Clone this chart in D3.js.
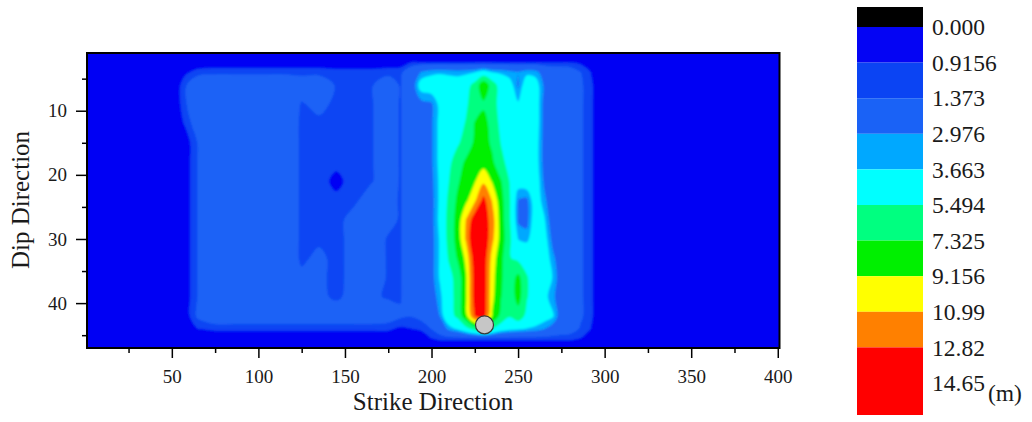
<!DOCTYPE html>
<html>
<head>
<meta charset="utf-8">
<script src="https://cdn.jsdelivr.net/npm/d3@7"></script>
<style>
body { margin: 0; background: #fff; }
text { font-family: "Liberation Serif", "Times New Roman", serif; fill: #1a1a1a; }
</style>
</head>
<body>
<svg id="chart" width="1032" height="422"></svg>
<script>
// grid positions (strike / dip) of the sampled slip values
var gridStrike = [1, 45, 52, 58, 65, 75, 85, 95, 105, 115,
                  125, 135, 145, 155, 165, 175, 182, 188, 194, 200,
                  205, 210, 215, 220, 225, 230, 235, 240, 245, 250,
                  255, 260, 265, 270, 275, 280, 286, 292, 298, 310,
                  401];
var gridDip = [1, 2.5, 4, 6, 9, 12, 15, 18, 21, 24, 27, 30, 33, 36, 39, 42, 44, 45.5, 47];

// slip (m), one row per dip position
var dip01 = [0.5,0.5,0.5,0.5,0.5,0.5,0.5,0.5,0.5,0.5, 0.5,0.5,0.5,0.5,0.5,0.5,0.5,0.5,0.5,0.5, 0.5,0.5,0.5,0.5,0.5,0.5,0.5,0.5,0.5,0.5, 0.5,0.5,0.5,0.5,0.5,0.5,0.5,0.5,0.5,0.5, 0.5];
var dip02 = [0.5,0.5,0.5,0.5,0.5,0.5,0.5,0.5,0.5,0.5, 0.5,0.5,0.5,0.5,0.5,0.5,0.6,0.9,0.9,0.9, 0.9,0.9,0.9,0.9,0.9,0.9,0.9,0.9,0.9,0.9, 0.9,0.9,0.9,0.9,0.9,0.9,0.8,0.6,0.5,0.5, 0.5];
var dip04 = [0.5,0.5,0.5,0.8,1.1,1.2,1.2,1.2,1.2,1.2, 1.2,1.2,1.1,1.1,1.1,1.2,1.2,2.0,3.0,3.4, 3.5,3.4,3.3,3.4,3.6,4.2,3.6,3.5,3.2,3.0, 3.4,3.3,2.4,2.1,2.0,1.9,1.4,0.9,0.5,0.5, 0.5];
var dip06 = [0.5,0.5,0.5,1.3,2.1,2.2,2.2,2.2,2.2,2.2, 1.8,1.9,1.3,1.3,1.3,1.8,1.3,2.0,4.2,4.4, 4.5,4.4,4.4,4.8,6.0,8.6,6.4,4.6,4.2,2.8, 4.4,4.2,2.8,2.2,2.2,2.1,1.5,1.0,0.5,0.5, 0.5];
var dip09 = [0.5,0.5,0.5,1.3,2.1,2.2,2.2,2.2,2.2,2.2, 1.3,1.6,1.2,1.2,1.3,1.8,1.3,2.0,2.6,2.8, 4.0,4.6,4.8,5.2,6.4,7.0,6.0,5.0,4.6,3.8, 4.6,4.4,2.6,2.2,2.2,2.1,1.5,1.0,0.5,0.5, 0.5];
var dip12 = [0.5,0.5,0.5,1.0,1.8,2.2,2.2,2.2,2.2,2.2, 1.2,1.2,1.2,1.2,1.3,1.8,1.3,2.0,2.2,2.8, 4.0,4.6,4.8,5.6,7.4,8.0,6.6,5.0,4.6,4.6, 4.6,4.4,2.6,2.2,2.2,2.1,1.5,1.0,0.5,0.5, 0.5];
var dip15 = [0.5,0.5,0.5,0.6,1.4,2.2,2.2,2.2,2.2,2.2, 1.2,1.2,1.1,1.2,1.3,1.8,1.3,2.0,2.2,2.8, 4.0,4.6,5.2,6.2,7.6,8.0,7.0,5.4,4.6,4.6, 4.6,4.2,2.6,2.2,2.2,2.1,1.5,1.0,0.5,0.5, 0.5];
var dip18 = [0.5,0.5,0.5,0.6,1.4,2.2,2.2,2.2,2.2,2.2, 1.2,1.2,1.1,1.2,1.3,1.8,1.3,2.0,2.2,2.8, 4.0,5.0,6.4,7.6,8.2,8.4,7.6,6.0,4.8,4.4, 4.6,4.2,2.6,2.2,2.2,2.1,1.5,1.0,0.5,0.5, 0.5];
var dip21 = [0.5,0.5,0.5,0.6,1.4,2.2,2.2,2.2,2.2,2.2, 1.2,1.2,0.7,1.2,1.3,1.8,1.3,2.0,2.2,2.7, 3.9,5.4,7.0,8.2,9.0,10.6,9.0,7.4,5.4,4.2, 4.4,4.4,2.8,2.2,2.2,2.1,1.5,1.0,0.5,0.5, 0.5];
var dip24 = [0.5,0.5,0.5,0.6,1.4,2.2,2.2,2.2,2.2,2.2, 1.2,1.2,1.1,1.2,1.8,1.6,1.3,2.0,2.2,2.6, 3.9,5.8,7.6,8.8,10.6,13.4,10.8,8.0,5.6,2.9, 2.7,4.4,3.2,2.2,2.2,2.1,1.5,1.0,0.5,0.5, 0.5];
var dip27 = [0.5,0.5,0.5,0.6,1.4,2.2,2.2,2.2,2.2,2.2, 1.2,1.2,1.1,1.7,1.8,1.6,1.3,2.0,2.2,2.6, 4.0,6.0,8.0,11.0,14.0,14.0,11.8,8.2,5.6,2.8, 2.6,4.4,3.8,2.2,2.2,2.1,1.5,1.0,0.5,0.5, 0.5];
var dip30 = [0.5,0.5,0.5,0.6,1.4,2.2,2.2,2.2,2.2,2.2, 1.2,1.2,1.1,1.7,1.8,1.3,1.3,2.0,2.2,2.6, 3.8,6.0,8.0,11.2,15.0,14.5,11.4,8.4,5.8,3.6, 3.4,4.4,4.2,2.6,2.2,2.1,1.5,1.0,0.5,0.5, 0.5];
var dip33 = [0.5,0.5,0.5,0.6,1.4,2.2,2.2,2.2,2.2,2.2, 1.2,1.6,1.1,1.7,1.8,1.3,1.3,2.0,2.2,2.6, 3.8,5.6,7.4,9.6,14.0,14.0,10.2,7.8,5.6,5.0, 4.8,4.6,4.4,3.2,2.2,2.1,1.5,1.0,0.5,0.5, 0.5];
var dip36 = [0.5,0.5,0.5,0.6,1.4,2.2,2.2,2.2,2.2,2.2, 1.6,1.6,1.1,1.7,1.8,1.3,1.3,2.0,2.2,2.6, 3.8,5.0,6.0,9.0,13.6,14.0,9.8,7.6,6.0,7.8, 5.6,4.6,4.4,3.6,2.2,2.1,1.5,1.0,0.5,0.5, 0.5];
var dip39 = [0.5,0.5,0.5,0.6,1.4,2.2,2.2,2.2,2.2,2.2, 2.0,1.6,1.2,1.7,1.5,1.3,1.3,2.0,2.2,2.4, 3.4,4.8,6.0,9.0,13.6,14.0,9.6,7.4,6.0,8.0, 5.6,4.6,4.0,3.2,2.2,2.1,1.5,1.0,0.5,0.5, 0.5];
var dip42 = [0.5,0.5,0.5,0.6,1.5,2.0,2.0,2.0,2.0,2.0, 2.0,2.0,2.0,2.0,2.0,1.8,1.5,1.4,1.6,2.2, 3.0,4.8,5.8,8.6,12.8,13.6,9.0,6.8,5.6,6.5, 5.0,4.6,4.2,3.8,2.2,2.1,1.5,1.0,0.5,0.5, 0.5];
var dip44 = [0.5,0.5,0.5,0.5,0.9,1.0,1.0,1.0,1.0,1.0, 1.0,1.0,1.0,1.0,1.0,1.0,0.8,0.9,1.0,1.4, 2.0,3.2,3.8,4.8,6.0,7.0,5.5,4.4,4.0,3.8, 3.6,3.4,3.0,2.4,2.0,1.8,1.3,0.9,0.5,0.5, 0.5];
var dip45 = [0.5,0.5,0.5,0.5,0.5,0.5,0.5,0.5,0.5,0.5, 0.5,0.5,0.5,0.5,0.5,0.5,0.5,0.5,0.5,0.9, 1.0,1.0,1.0,1.0,1.0,1.0,1.0,1.0,1.0,1.0, 1.0,1.0,1.0,1.0,1.0,1.0,0.9,0.6,0.5,0.5, 0.5];
var dip47 = [0.5,0.5,0.5,0.5,0.5,0.5,0.5,0.5,0.5,0.5, 0.5,0.5,0.5,0.5,0.5,0.5,0.5,0.5,0.5,0.5, 0.5,0.5,0.5,0.5,0.5,0.5,0.5,0.5,0.5,0.5, 0.5,0.5,0.5,0.5,0.5,0.5,0.5,0.5,0.5,0.5, 0.5];

var slipRows = [dip01, dip02, dip04, dip06, dip09, dip12, dip15, dip18, dip21, dip24,
                dip27, dip30, dip33, dip36, dip39, dip42, dip44, dip45, dip47];

// colour scale levels
var levelLabels = ["0.000", "0.9156", "1.373", "2.976", "3.663", "5.494", "7.325", "9.156", "10.99", "12.82", "14.65"];
var levelValues = [0, 0.9156, 1.373, 2.976, 3.663, 5.494, 7.325, 9.156, 10.99, 12.82, 14.65];
var bandColors = ["#000000", "#0404f4", "#0b44f3", "#1a62f6", "#00a8ff", "#00ffff",
                  "#00ff80", "#00f000", "#ffff00", "#ff8000", "#ff0000", "#ff0000"];

var strikeTicks = [50, 100, 150, 200, 250, 300, 350, 400];
var strikeMinor = [25, 75, 125, 175, 225, 275, 325, 375];
var dipTicks = [10, 20, 30, 40];
var dipMinor = [5, 15, 25, 35, 45];
var hypocenter = {strike: 230.6, dip: 43.4};

var svg = d3.select("#chart");

var x = d3.scaleLinear().domain([1, 401]).range([87, 779.5]);
var y = d3.scaleLinear().domain([1, 47]).range([53, 348]);

// grid index -> strike/dip
var gx = d3.scaleLinear().domain(d3.range(gridStrike.length)).range(gridStrike).clamp(true);
var gy = d3.scaleLinear().domain(d3.range(gridDip.length)).range(gridDip).clamp(true);

var values = [];
slipRows.forEach(function(r) { r.forEach(function(v) { values.push(v); }); });

var contours = d3.contours()
    .size([gridStrike.length, gridDip.length])
    .thresholds(levelValues.slice(1))(values);

// contour rings drawn as smooth closed curves
var ringLine = d3.line()
    .x(function(p) { return x(gx(p[0] - 0.5)); })
    .y(function(p) { return y(gy(p[1] - 0.5)); })
    .curve(d3.curveCatmullRomClosed.alpha(0.5));

function contourPath(geo) {
    return geo.coordinates.map(function(poly) {
        return poly.map(function(ring) { return ringLine(ring.slice(0, -1)); }).join("");
    }).join("");
}

var defs = svg.append("defs");
defs.append("clipPath").attr("id", "plotclip")
    .append("rect")
    .attr("x", x(1)).attr("y", y(1))
    .attr("width", x(401) - x(1)).attr("height", y(47) - y(1));
defs.append("filter").attr("id", "soft")
    .attr("x", "-5%").attr("y", "-5%").attr("width", "110%").attr("height", "110%")
    .append("feGaussianBlur").attr("stdDeviation", 1.1);

var plot = svg.append("g").attr("clip-path", "url(#plotclip)")
    .append("g").attr("filter", "url(#soft)");

plot.append("rect")
    .attr("x", x(1) - 10).attr("y", y(1) - 10)
    .attr("width", x(401) - x(1) + 20).attr("height", y(47) - y(1) + 20)
    .attr("fill", bandColors[1]);

plot.selectAll("path.level")
    .data(contours)
    .enter()
    .append("path")
    .attr("class", "level")
    .attr("d", contourPath)
    .attr("fill", function(d, i) { return bandColors[i + 2]; })
    .attr("stroke", function(d, i) { return bandColors[i + 2]; })
    .attr("stroke-width", 0.5);

// hypocenter
svg.append("circle")
    .attr("cx", x(hypocenter.strike))
    .attr("cy", y(hypocenter.dip))
    .attr("r", 9)
    .attr("fill", "#c6c6c6")
    .attr("stroke", "#3a3a3a")
    .attr("stroke-width", 1.2);

// axes
svg.append("g")
    .attr("transform", "translate(0," + y(47) + ")")
    .call(d3.axisBottom(x).tickValues(strikeTicks).tickSize(10).tickPadding(12));
svg.append("g")
    .attr("transform", "translate(0," + y(47) + ")")
    .call(d3.axisBottom(x).tickValues(strikeMinor).tickSize(5).tickFormat(""));
svg.append("g")
    .attr("transform", "translate(" + x(1) + ",0)")
    .call(d3.axisLeft(y).tickValues(dipTicks).tickSize(11).tickPadding(9));
svg.append("g")
    .attr("transform", "translate(" + x(1) + ",0)")
    .call(d3.axisLeft(y).tickValues(dipMinor).tickSize(5).tickFormat(""));

svg.selectAll(".domain").remove();
svg.selectAll(".tick line").attr("stroke", "#000").attr("stroke-width", 1.5);
svg.selectAll(".tick text")
    .style("font-family", "'Liberation Serif', serif")
    .style("font-size", "19px")
    .attr("fill", "#1a1a1a");

// frame
svg.append("rect")
    .attr("x", x(1)).attr("y", y(1))
    .attr("width", x(401) - x(1)).attr("height", y(47) - y(1))
    .attr("fill", "none")
    .attr("stroke", "#000")
    .attr("stroke-width", 2);

// axis titles
svg.append("text")
    .attr("x", 433).attr("y", 410)
    .attr("text-anchor", "middle")
    .style("font-size", "25px")
    .text("Strike Direction");

svg.append("text")
    .attr("transform", "translate(29,200) rotate(-90)")
    .attr("text-anchor", "middle")
    .style("font-size", "25px")
    .text("Dip Direction");

// colour bar
var cb = d3.scaleLinear().domain([0, levelLabels.length - 1]).range([27, 383]);
var cbX = 857, cbW = 66;

svg.selectAll("rect.band")
    .data(bandColors)
    .enter()
    .append("rect")
    .attr("class", "band")
    .attr("x", cbX)
    .attr("y", function(d, i) { return i === 0 ? 7 : cb(i - 1); })
    .attr("width", cbW)
    .attr("height", function(d, i) {
        var top = i === 0 ? 7 : cb(i - 1);
        var bot = i === bandColors.length - 1 ? 415 : cb(i);
        return bot - top;
    })
    .attr("fill", function(d) { return d; });

svg.selectAll("text.cblabel")
    .data(levelLabels)
    .enter()
    .append("text")
    .attr("class", "cblabel")
    .attr("x", 932)
    .attr("y", function(d, i) { return cb(i); })
    .attr("dy", "0.35em")
    .style("font-size", "23.5px")
    .text(function(d) { return d; });

svg.append("text")
    .attr("x", 988).attr("y", 401)
    .style("font-size", "23.5px")
    .text("(m)");
</script>
</body>
</html>
